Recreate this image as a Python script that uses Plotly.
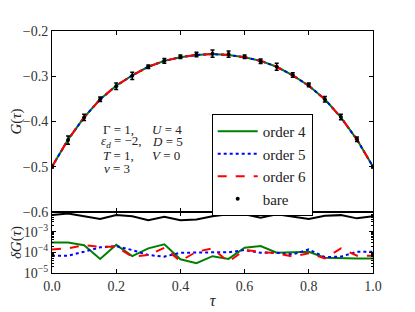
import plotly.graph_objects as go
from plotly.subplots import make_subplots

# ---------------- data ----------------
tau = [0.0, 0.05, 0.1, 0.15, 0.2, 0.25, 0.3, 0.35, 0.4, 0.45, 0.5,
       0.55, 0.6, 0.65, 0.7, 0.75, 0.8, 0.85, 0.9, 0.95, 1.0]

G_orders = [-0.500, -0.440, -0.391, -0.351, -0.321, -0.298, -0.279, -0.266, -0.258, -0.253, -0.251,
            -0.253, -0.258, -0.266, -0.279, -0.298, -0.321, -0.351, -0.391, -0.440, -0.500]
G_bare = [-0.500, -0.441, -0.391, -0.351, -0.322, -0.299, -0.279, -0.266, -0.257, -0.252, -0.250,
          -0.251, -0.257, -0.267, -0.279, -0.297, -0.319, -0.351, -0.390, -0.439, -0.500]
G_bare_err = [0.003, 0.009, 0.007, 0.005, 0.007, 0.008, 0.004, 0.005, 0.004, 0.005, 0.008,
              0.007, 0.004, 0.005, 0.008, 0.005, 0.004, 0.006, 0.006, 0.005, 0.003]

dG_order4 = [3.0e-4, 3.0e-4, 2.2e-4, 4.8e-5, 2.3e-4, 6.6e-5, 1.55e-4, 2.45e-4, 4.6e-5, 3.0e-5, 6.5e-5,
             4.8e-5, 1.66e-4, 2.0e-4, 9.5e-5, 1.0e-4, 1.07e-4, 5.5e-5, 5.1e-5, 5.0e-5, 5.0e-5]
dG_order5 = [6.9e-5, 6.9e-5, 1.07e-4, 1.74e-4, 2.0e-4, 1.29e-4, 7.4e-5, 6.2e-5, 9.5e-5, 1.0e-4, 1.0e-4,
             1.0e-4, 1.29e-4, 9.5e-5, 9.5e-5, 7.9e-5, 1.38e-4, 5.8e-5, 6.2e-5, 1.07e-4, 1.07e-4]
dG_order6 = [1.38e-4, 1.55e-4, 2.2e-4, 1.86e-4, 1.86e-4, 6.2e-5, 7.4e-5, 1.66e-4, 3.8e-5, 1.07e-4, 1.55e-4,
             3.5e-5, 1.29e-4, 1.07e-4, 8.9e-5, 6.2e-5, 8.9e-5, 5.1e-5, 1.55e-4, 6.9e-5, 6.9e-5]
dG_bare = [6.3e-3, 7.6e-3, 5.6e-3, 4.1e-3, 6.3e-3, 5.6e-3, 3.6e-3, 5.2e-3, 3.6e-3, 3.9e-3, 5.6e-3,
           6.9e-3, 6.9e-3, 4.7e-3, 6.9e-3, 5.2e-3, 4.1e-3, 5.9e-3, 6.3e-3, 4.4e-3, 5.6e-3]

x_ticks = [0.0, 0.2, 0.4, 0.6, 0.8, 1.0]
x_ticklabels = ["0.0", "0.2", "0.4", "0.6", "0.8", "1.0"]
G_ticks = [-0.6, -0.5, -0.4, -0.3, -0.2]
G_ticklabels = ["\u22120.6", "\u22120.5", "\u22120.4", "\u22120.3", "\u22120.2"]
dG_ticks = [1e-5, 1e-4, 1e-3]
dG_ticklabels = ["10<sup>\u22125</sup>", "10<sup>\u22124</sup>", "10<sup>\u22123</sup>"]
dG_minor = [2e-5, 3e-5, 4e-5, 5e-5, 6e-5, 7e-5, 8e-5, 9e-5,
            2e-4, 3e-4, 4e-4, 5e-4, 6e-4, 7e-4, 8e-4, 9e-4,
            2e-3, 3e-3, 4e-3, 5e-3, 6e-3, 7e-3, 8e-3]

series_names = ["order 4", "order 5", "order 6", "bare"]

# ---------------- figure ----------------
FONT = "Liberation Serif"
fig = make_subplots(rows=2, cols=1, shared_xaxes=True, vertical_spacing=0,
                    row_heights=[0.748, 0.252])

styles = [
    dict(color="#008000", width=2, dash="solid"),
    dict(color="#0000ff", width=2, dash="dot"),
    dict(color="#ff0000", width=2, dash="dash"),
]
orders_dG = [dG_order4, dG_order5, dG_order6]

for name, st in zip(series_names[:3], styles):
    fig.add_trace(go.Scatter(x=tau, y=G_orders, mode="lines", name=name,
                             line=st, legendgroup=name), row=1, col=1)

fig.add_trace(go.Scatter(x=tau, y=G_bare, mode="markers", name=series_names[3],
                         marker=dict(color="black", size=4, symbol="circle"),
                         error_y=dict(type="data", array=G_bare_err, color="black",
                                      thickness=1.5, width=2),
                         legendgroup="bare"), row=1, col=1)

for name, st, vals in zip(series_names[:3], styles, orders_dG):
    fig.add_trace(go.Scatter(x=tau, y=vals, mode="lines", name=name, line=st,
                             legendgroup=name, showlegend=False), row=2, col=1)
fig.add_trace(go.Scatter(x=tau, y=dG_bare, mode="lines", name="bare",
                         line=dict(color="black", width=2), legendgroup="bare",
                         showlegend=False), row=2, col=1)

axis_common = dict(showline=True, linecolor="black", linewidth=1, mirror="allticks",
                   ticks="inside", ticklen=4, tickcolor="black", showgrid=False,
                   zeroline=False, automargin=False,
                   tickfont=dict(family=FONT, size=14, color="#333"))

fig.update_xaxes(range=[0, 1], tickvals=x_ticks, ticktext=x_ticklabels, **axis_common)
fig.update_xaxes(showticklabels=False, row=1, col=1)
fig.update_xaxes(title=dict(text="<i>\u03c4</i>", standoff=2,
                            font=dict(family=FONT, size=16, color="#222")), row=2, col=1)

fig.update_yaxes(range=[-0.6, -0.2], tickvals=G_ticks, ticktext=G_ticklabels,
                 title=dict(text="<i>G</i>(<i>\u03c4</i>)", standoff=6,
                            font=dict(family=FONT, size=15, color="#222")),
                 row=1, col=1, **axis_common)
fig.update_yaxes(type="log", range=[-5, -2.05], tickvals=dG_ticks, ticktext=dG_ticklabels,
                 title=dict(text="<i>\u03b4G</i>(<i>\u03c4</i>)", standoff=4,
                            font=dict(family=FONT, size=15, color="#222")),
                 minor=dict(ticks="inside", ticklen=2, tickcolor="black", tickvals=dG_minor),
                 row=2, col=1, **axis_common)

# parameter text
ann_font = dict(family=FONT, size=13, color="#222")
left_parts = ["\u0393 = 1,", "<i>\u03b5<sub>d</sub></i> = \u22122,", "<i>T</i> = 1,", "<i>\u03bd</i> = 3"]
right_parts = ["<i>U</i> = 4", "<i>D</i> = 5", "<i>V</i> = 0"]
ys = [0.595, 0.542, 0.487, 0.432]
xs_left = [0.152, 0.146, 0.152, 0.155]
for t, xx, yy in zip(left_parts, xs_left, ys):
    fig.add_annotation(text=t, x=xx, y=yy, xref="paper", yref="paper",
                       xanchor="left", yanchor="middle", showarrow=False, font=ann_font)
for t, yy in zip(right_parts, ys[:3]):
    fig.add_annotation(text=t, x=0.305, y=yy, xref="paper", yref="paper",
                       xanchor="left", yanchor="middle", showarrow=False, font=ann_font)

# page body adds an 8px offset: figure is 407x304 placed at (8, 8)
fig.update_layout(
    width=407, height=304,
    margin=dict(l=44, r=42, t=23, b=39, autoexpand=False),
    paper_bgcolor="white", plot_bgcolor="white",
    showlegend=True,
    legend=dict(x=0.4975, y=0.657, xanchor="left", yanchor="top",
                bgcolor="white", bordercolor="black", borderwidth=1,
                font=dict(family=FONT, size=15, color="#222"),
                itemwidth=40, tracegroupgap=0),
    font=dict(family=FONT),
)

fig.write_html("out.html")
